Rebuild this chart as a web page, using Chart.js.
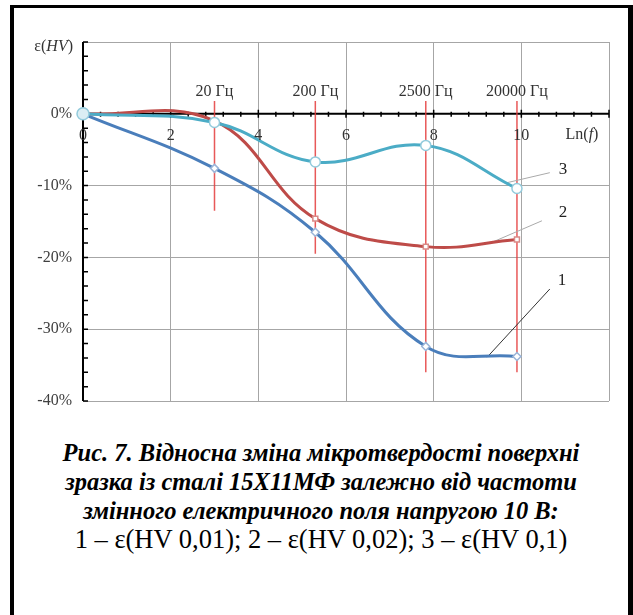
<!DOCTYPE html>
<html lang="uk">
<head>
  <meta charset="UTF-8">
  <title>Рис. 7</title>
  <style>
    body { margin: 0; background: #fff; }
    #frame { position: absolute; left: 10px; top: 5px; width: 614px; height: 610px;
             border-left: 4px solid #000; border-top: 3px solid #000; border-right: 5px solid #000; }
    #wrap { position: absolute; left: 0; top: 0; width: 633px; height: 430px; }
    #caption { position: absolute; left: 14px; width: 614px; top: 438px; text-align: center;
               font-family: "Liberation Serif", serif; font-size: 24.5px; line-height: 29px; color: #000; }
    #caption b { font-style: italic; }
    #caption span { font-size: 26.5px; }
  </style>
</head>
<body>
  <div id="frame"></div>
  <div id="wrap"><canvas id="hvChart"></canvas></div>
  <div id="caption">
    <b>Рис. 7. Відносна зміна мікротвердості поверхні<br>
    зразка із сталі 15Х11МФ залежно від частоти<br>
    змінного електричного поля напругою 10 В:</b><br>
    <span>1 – ε(HV 0,01); 2 – ε(HV 0,02); 3 – ε(HV 0,1)</span>
  </div>
  <script src="https://cdn.jsdelivr.net/npm/chart.js"></script>
  <script>
    // x = Ln(f); first point is the reference state
    const xValues = [0, 3.00, 5.30, 7.82, 9.90];
    const series1 = [0, -7.6, -16.5, -32.4, -33.8];   // ε(HV 0,01)
    const series2 = [0, -1.0, -14.6, -18.5, -17.5];   // ε(HV 0,02)
    const series3 = [0, -1.2, -6.7, -4.4, -10.4];     // ε(HV 0,1)

    const freqLabels = ['20 Гц', '200 Гц', '2500 Гц', '20000 Гц'];
    const freqX = xValues.slice(1);
    const freqLineTop = [1.8, 1.8, 1.8, 1.8];
    const freqLineBottom = [-13.5, -19.5, -36, -36];

    const xTickLabels = [0, 2, 4, 6, 8, 10];
    const curveNames = ['1', '2', '3'];
    const leaderFrom = [[9.22, -33.9], [9.33, -17.9], [9.67, -9.6]];
    const leaderTo = [[10.65, -24.4], [10.47, -14.9], [10.65, -8.2]];
    const nameAt = [[10.93, -23.2], [10.95, -13.7], [10.95, -7.8]];

    const pts = (ys) => xValues.map((x, i) => ({ x: x, y: ys[i] }));
    const SERIF = '"Liberation Serif", "Times New Roman", serif';

    function drawParts(ctx, parts, x, y, align) {
      let w = 0;
      parts.forEach(p => { ctx.font = p[1]; w += ctx.measureText(p[0]).width; });
      let cx = align === 'right' ? x - w : align === 'center' ? x - w / 2 : x;
      ctx.textAlign = 'left';
      parts.forEach(p => { ctx.font = p[1]; ctx.fillText(p[0], cx, y); cx += ctx.measureText(p[0]).width; });
    }

    const axesPlugin = {
      id: 'axes',
      beforeDatasetsDraw(chart) {
        const { ctx, scales: { x, y } } = chart;
        const y0 = y.getPixelForValue(0);
        const xl = x.getPixelForValue(0), xr = x.getPixelForValue(12);
        ctx.save();
        ctx.strokeStyle = '#000';
        ctx.lineWidth = 2;
        ctx.beginPath();
        ctx.moveTo(xl, y0); ctx.lineTo(xr, y0);
        ctx.moveTo(xl, y.getPixelForValue(10)); ctx.lineTo(xl, y.getPixelForValue(-40));
        ctx.stroke();
        ctx.lineWidth = 1.5;
        ctx.beginPath();
        for (let i = 0; i <= 30; i++) {
          const px = x.getPixelForValue(i * 0.4);
          if (i % 5 === 0) { ctx.moveTo(px, y0 - 4); ctx.lineTo(px, y0 + 4); }
          else { ctx.moveTo(px, y0 - 2); ctx.lineTo(px, y0 + 3); }
        }
        for (let i = 0; i <= 25; i++) {
          const py = y.getPixelForValue(-40 + i * 2);
          ctx.moveTo(xl, py); ctx.lineTo(xl + 5, py);
        }
        ctx.stroke();
        ctx.restore();
      },
      afterDraw(chart) {
        const { ctx, scales: { x, y } } = chart;
        const y0 = y.getPixelForValue(0);
        ctx.save();
        ctx.fillStyle = '#333';
        ctx.textBaseline = 'middle';
        ctx.font = '16px ' + SERIF;
        ctx.textAlign = 'center';
        xTickLabels.forEach(v => ctx.fillText(String(v), x.getPixelForValue(v), y0 + 22));
        drawParts(ctx, [['Ln(', '16px ' + SERIF], ['f', 'italic 16px ' + SERIF], [')', '16px ' + SERIF]],
          x.getPixelForValue(12) - 27, y0 + 21, 'center');
        ctx.textAlign = 'center';
        ctx.font = '16px ' + SERIF;
        freqLabels.forEach((t, i) => ctx.fillText(t, x.getPixelForValue(freqX[i]), y.getPixelForValue(3.06)));
        ctx.fillStyle = '#222';
        ctx.font = '17px ' + SERIF;
        curveNames.forEach((t, i) => ctx.fillText(t, x.getPixelForValue(nameAt[i][0]), y.getPixelForValue(nameAt[i][1])));
        ctx.fillStyle = '#333';
        drawParts(ctx, [['ε(', '16px ' + SERIF], ['HV', 'italic 16px ' + SERIF], [')', '16px ' + SERIF]],
          73, 47, 'right');
        ctx.restore();
      }
    };

    const datasets = [];
    freqX.forEach((fx, i) => {
      datasets.push({
        data: [{ x: fx, y: freqLineTop[i] }, { x: fx, y: freqLineBottom[i] }],
        borderColor: 'rgba(228, 60, 60, 0.85)', borderWidth: 1.5, pointRadius: 0, order: 5, tension: 0
      });
    });
    const leaderColors = ['#333', '#aaa', '#aaa'];
    leaderFrom.forEach((p, i) => {
      datasets.push({
        data: [{ x: p[0], y: p[1] }, { x: leaderTo[i][0], y: leaderTo[i][1] }],
        borderColor: leaderColors[i], borderWidth: 1, pointRadius: 0, order: 4, tension: 0
      });
    });
    datasets.push({
      label: '1', data: pts(series1), borderColor: '#4a7ebb', borderWidth: 3, tension: 0.4,
      pointStyle: 'rectRot', pointRadius: 4, pointBackgroundColor: '#fff',
      pointBorderColor: '#9ab4d8', pointBorderWidth: 1.5, order: 3
    });
    datasets.push({
      label: '2', data: pts(series2), borderColor: '#be4b48', borderWidth: 3, tension: 0.4,
      pointStyle: 'rect', pointRadius: 3.5, pointBackgroundColor: '#fff',
      pointBorderColor: '#d98a88', pointBorderWidth: 1.5, order: 2
    });
    datasets.push({
      label: '3', data: pts(series3), borderColor: '#4bacc6', borderWidth: 3, tension: 0.4,
      pointStyle: 'circle', pointRadius: c => c.dataIndex === 0 ? 6 : 5,
      pointBackgroundColor: c => c.dataIndex === 0 ? '#dbeef4' : '#fff',
      pointBorderColor: '#93cbdc', pointBorderWidth: 1.5, order: 1
    });
    datasets.forEach(d => { d.clip = false; d.fill = false; });

    new Chart(document.getElementById('hvChart'), {
      type: 'line',
      data: { datasets: datasets },
      plugins: [axesPlugin],
      options: {
        responsive: true,
        maintainAspectRatio: false,
        animation: false,
        layout: { padding: { left: 0, top: 42, right: 24, bottom: 29 } },
        plugins: { legend: { display: false }, tooltip: { enabled: false } },
        scales: {
          x: {
            type: 'linear', min: 0, max: 12,
            ticks: { display: false, stepSize: 2 },
            grid: { color: '#a6a6a6', lineWidth: 1, drawTicks: false },
            border: { display: false }
          },
          y: {
            min: -40, max: 10,
            afterFit: s => { s.width = 83; },
            ticks: {
              stepSize: 10, padding: 11, color: '#404040',
              font: { family: SERIF, size: 16 },
              callback: v => v === 10 ? '' : v + '%'
            },
            grid: { color: '#a6a6a6', lineWidth: 1, drawTicks: false },
            border: { display: false }
          }
        }
      }
    });
  </script>
</body>
</html>
